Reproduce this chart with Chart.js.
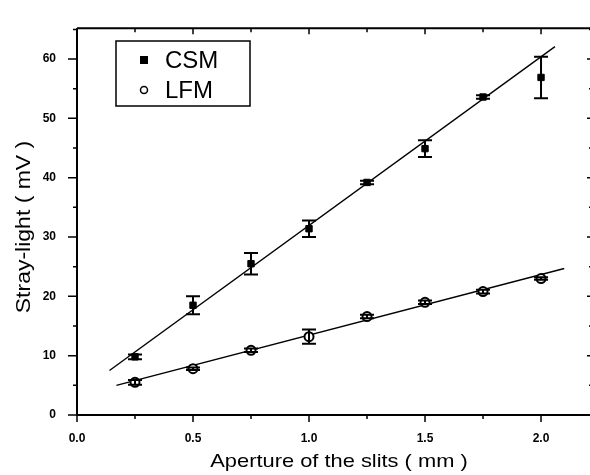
<!DOCTYPE html>
<html>
<head>
<meta charset="utf-8">
<script src="https://cdn.jsdelivr.net/npm/chart.js@4/dist/chart.umd.min.js"></script>
<style>
  html, body { margin: 0; padding: 0; background: #fff; overflow: hidden; }
  #wrap { width: 600px; height: 475px; }
</style>
</head>
<body>
<div id="wrap"><canvas id="chart" width="600" height="475"></canvas></div>
<script>
const apertures = [0.25, 0.5, 0.75, 1.0, 1.25, 1.5, 1.75, 2.0];
const csmValues = [9.8, 18.5, 25.5, 31.4, 39.2, 44.9, 53.6, 56.9];
const csmErrors = [0.4, 1.5, 1.8, 1.4, 0.3, 1.4, 0.3, 3.5];
const lfmValues = [5.5, 7.8, 10.9, 13.2, 16.6, 19.0, 20.8, 23.0];
const lfmErrors = [0.4, 0.2, 0.3, 1.2, 0.3, 0.3, 0.3, 0.2];

// linear fits, end points
const csmFitX = [0.14, 2.06];
const csmFitY = [7.5, 62.1];
const lfmFitX = [0.17, 2.10];
const lfmFitY = [5.0, 24.7];

const xTicks = [0, 0.5, 1.0, 1.5, 2.0];
const yTicks = [0, 10, 20, 30, 40, 50, 60];

const xTitle = "Aperture of the slits ( mm )";
const yTitle = "Stray-light ( mV )";

function points(xs, ys) {
  return xs.map((x, i) => ({ x: x, y: ys[i] }));
}

const errorBars = {
  id: "errorBars",
  afterDatasetsDraw(chart) {
    const ctx = chart.ctx;
    const xs = chart.scales.x, ys = chart.scales.y;
    chart.data.datasets.forEach(ds => {
      if (!ds.errors) return;
      ctx.save();
      ctx.strokeStyle = "#000";
      ctx.lineWidth = 2;
      ds.data.forEach((p, j) => {
        const px = xs.getPixelForValue(p.x);
        const top = ys.getPixelForValue(p.y + ds.errors[j]);
        const bot = ys.getPixelForValue(p.y - ds.errors[j]);
        ctx.beginPath();
        ctx.moveTo(px, top); ctx.lineTo(px, bot);
        ctx.moveTo(px - 7, top); ctx.lineTo(px + 7, top);
        ctx.moveTo(px - 7, bot); ctx.lineTo(px + 7, bot);
        ctx.stroke();
      });
      ctx.restore();
    });
  }
};

// axis box: outward ticks left/bottom, inward ticks top/right
const frame = {
  id: "frame",
  afterDraw(chart) {
    const ctx = chart.ctx;
    const a = chart.chartArea;
    const xs = chart.scales.x, ys = chart.scales.y;
    ctx.save();
    ctx.strokeStyle = "#000";
    ctx.lineWidth = 2;
    ctx.beginPath();
    ctx.moveTo(a.left, a.top); ctx.lineTo(a.left, a.bottom);
    ctx.lineTo(a.right, a.bottom);
    ctx.moveTo(a.left, a.top); ctx.lineTo(a.right, a.top);
    ctx.lineTo(a.right, a.bottom);
    ctx.stroke();

    ctx.lineWidth = 1.5;
    ctx.beginPath();
    for (let v = 0; v <= xs.max + 1e-9; v += 0.25) {
      const px = xs.getPixelForValue(v);
      const major = Math.abs(v * 2 - Math.round(v * 2)) < 1e-6;
      ctx.moveTo(px, a.bottom); ctx.lineTo(px, a.bottom + (major ? 7 : 4));
      ctx.moveTo(px, a.top); ctx.lineTo(px, a.top + (major ? 6 : 4));
    }
    for (let v = 0; v <= ys.max + 1e-9; v += 5) {
      const py = ys.getPixelForValue(v);
      const major = v % 10 === 0;
      ctx.moveTo(a.left, py); ctx.lineTo(a.left - (major ? 9 : 4), py);
      ctx.moveTo(a.right, py); ctx.lineTo(a.right - (major ? 6 : 4), py);
    }
    ctx.stroke();

    // axis titles (the scan is stretched along the text)
    ctx.fillStyle = "#000";
    ctx.textAlign = "center";
    ctx.textBaseline = "middle";
    ctx.save();
    ctx.font = "19px 'Liberation Sans', Arial, sans-serif";
    ctx.translate(339, 462);
    ctx.scale(1.15, 1);
    ctx.fillText(xTitle, 0, 0);
    ctx.restore();
    ctx.save();
    ctx.font = "20px 'Liberation Sans', Arial, sans-serif";
    ctx.translate(24, 227);
    ctx.rotate(-Math.PI / 2);
    ctx.scale(1.15, 1);
    ctx.fillText(yTitle, 0, 0);
    ctx.restore();
    ctx.restore();
  }
};

const legendBox = {
  id: "legendBox",
  afterDraw(chart) {
    const ctx = chart.ctx;
    const sets = chart.data.datasets.filter(d => d.errors);
    ctx.save();
    ctx.strokeStyle = "#000";
    ctx.lineWidth = 1.5;
    ctx.strokeRect(116, 41, 134, 65);
    ctx.font = "24px 'Liberation Sans', Arial, sans-serif";
    ctx.textBaseline = "middle";
    ctx.textAlign = "left";
    sets.forEach((ds, i) => {
      const y = 60 + i * 30;
      if (ds.pointStyle === "rect") {
        ctx.fillStyle = "#000";
        ctx.fillRect(140, y - 4, 8, 8);
      } else {
        ctx.fillStyle = "#fff";
        ctx.lineWidth = 1.5;
        ctx.beginPath();
        ctx.arc(144, y, 3.5, 0, Math.PI * 2);
        ctx.fill();
        ctx.stroke();
      }
      ctx.fillStyle = "#000";
      ctx.fillText(ds.label, 165, y + 1);
    });
    ctx.restore();
  }
};

const tickFont = { family: "'Liberation Sans', Arial, sans-serif", size: 12, weight: "bold" };

new Chart(document.getElementById("chart"), {
  type: "scatter",
  data: {
    datasets: [
      {
        label: "CSM",
        data: points(apertures, csmValues),
        errors: csmErrors,
        pointStyle: "rect",
        pointRadius: 4.5,
        backgroundColor: "#000",
        borderColor: "#000",
        borderWidth: 1
      },
      {
        label: "LFM",
        data: points(apertures, lfmValues),
        errors: lfmErrors,
        pointStyle: "circle",
        pointRadius: 4.5,
        backgroundColor: "#fff",
        borderColor: "#000",
        borderWidth: 2
      },
      {
        label: "CSM fit",
        data: points(csmFitX, csmFitY),
        showLine: true,
        pointRadius: 0,
        borderColor: "#000",
        borderWidth: 1.4
      },
      {
        label: "LFM fit",
        data: points(lfmFitX, lfmFitY),
        showLine: true,
        pointRadius: 0,
        borderColor: "#000",
        borderWidth: 1.4
      }
    ]
  },
  options: {
    responsive: false,
    animation: false,
    layout: { padding: { top: 14, right: 7, left: 0, bottom: 0 } },
    plugins: { legend: { display: false }, tooltip: { enabled: false } },
    scales: {
      x: {
        type: "linear",
        min: 0,
        max: 2.224,
        grid: { display: false, drawTicks: false },
        border: { display: false },
        afterBuildTicks: s => { s.ticks = xTicks.map(v => ({ value: v })); },
        afterFit: s => { s.height = 60; },
        ticks: {
          padding: 16,
          color: "#000",
          font: tickFont,
          callback: v => v.toFixed(1)
        }
      },
      y: {
        type: "linear",
        min: 0,
        max: 65.2,
        grid: { display: false, drawTicks: false },
        border: { display: false },
        afterBuildTicks: s => { s.ticks = yTicks.map(v => ({ value: v })); },
        afterFit: s => { s.width = 77; },
        ticks: {
          padding: 21,
          color: "#000",
          font: tickFont
        }
      }
    }
  },
  plugins: [errorBars, frame, legendBox]
});
</script>
</body>
</html>
